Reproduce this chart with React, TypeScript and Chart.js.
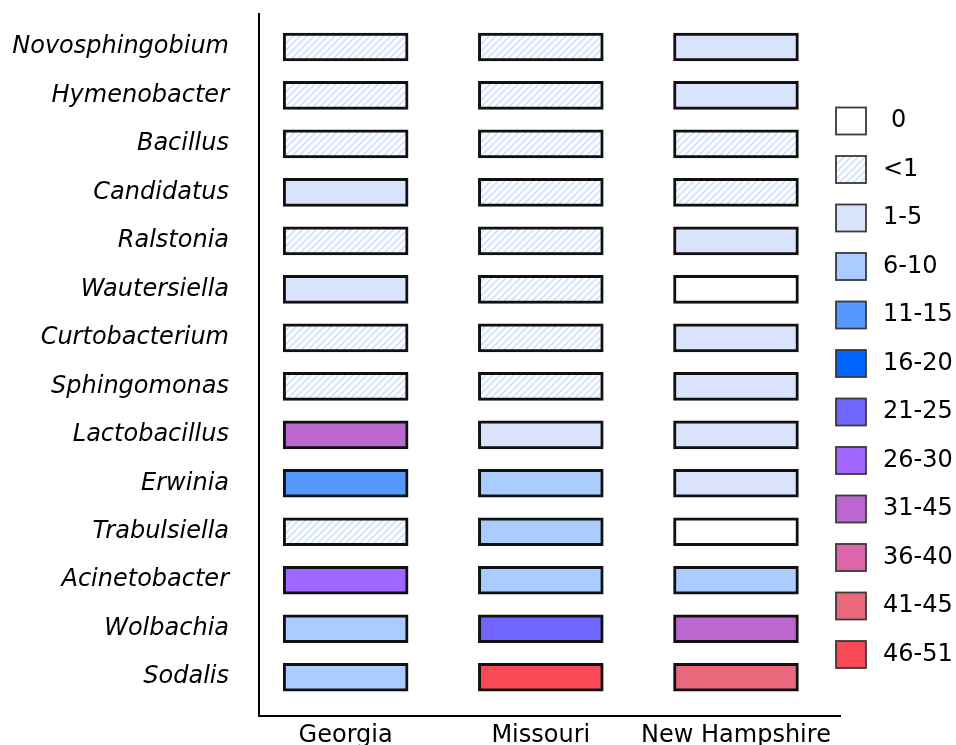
import React, { useEffect, useRef } from "react";
import { Chart, registerables } from "chart.js";

Chart.register(...registerables);

const genera = [
  "Novosphingobium",
  "Hymenobacter",
  "Bacillus",
  "Candidatus",
  "Ralstonia",
  "Wautersiella",
  "Curtobacterium",
  "Sphingomonas",
  "Lactobacillus",
  "Erwinia",
  "Trabulsiella",
  "Acinetobacter",
  "Wolbachia",
  "Sodalis",
];

const states = ["Georgia", "Missouri", "New Hampshire"];

const classLabels = ["0", "<1", "1-5", "6-10", "11-15", "16-20", "21-25", "26-30", "31-45", "36-40", "41-45", "46-51"];
const classColors = ["#ffffff", "HATCH", "#dae3fc", "#aaccff", "#5599ff", "#0066ff", "#7066ff", "#a066ff", "#bc66d0", "#dd66aa", "#e8687c", "#f74a56"];

const georgia = ["<1", "<1", "<1", "1-5", "<1", "1-5", "<1", "<1", "31-45", "11-15", "<1", "26-30", "6-10", "6-10"];
const missouri = ["<1", "<1", "<1", "<1", "<1", "<1", "<1", "<1", "1-5", "6-10", "6-10", "6-10", "21-25", "46-51"];
const newHampshire = ["1-5", "1-5", "<1", "<1", "1-5", "0", "1-5", "1-5", "1-5", "1-5", "0", "6-10", "31-45", "41-45"];

const seriesByState = [georgia, missouri, newHampshire];

function makeHatch(): CanvasPattern | string {
  const s = 7;
  const c = document.createElement("canvas");
  c.width = s;
  c.height = s;
  const g = c.getContext("2d");
  if (!g) return "#eef3fd";
  g.fillStyle = "#fafcff";
  g.fillRect(0, 0, s, s);
  g.strokeStyle = "#c9dbf7";
  g.lineWidth = 1.3;
  g.beginPath();
  g.moveTo(0, s);
  g.lineTo(s, 0);
  g.moveTo(-1, 1);
  g.lineTo(1, -1);
  g.moveTo(s - 1, s + 1);
  g.lineTo(s + 1, s - 1);
  g.stroke();
  const p = g.createPattern(c, "repeat");
  return p || "#eef3fd";
}

export default function App() {
  const ref = useRef<HTMLCanvasElement | null>(null);

  useEffect(() => {
    if (!ref.current) return;
    const hatch = makeHatch();
    const colorOf = (cls: string) => {
      const c = classColors[classLabels.indexOf(cls)];
      return c === "HATCH" ? hatch : c;
    };
    const half = 0.32;

    const datasets = seriesByState.map((series, col) => ({
      label: states[col],
      data: series.map((_, i) => ({ x: [col - half, col + half], y: i })),
      backgroundColor: series.map((cls) => colorOf(cls)),
      borderColor: "#111111",
      borderWidth: 3,
      borderSkipped: false,
      barThickness: 28,
      grouped: false,
    }));

    const legendPlugin = {
      id: "classLegend",
      afterDraw(chart: any) {
        const ctx = chart.ctx;
        ctx.save();
        classLabels.forEach((lab, i) => {
          const cy = 121 + 48.5 * i;
          const bx = 836;
          const bw = 30;
          const bh = 27;
          ctx.fillStyle = colorOf(lab);
          ctx.fillRect(bx, cy - bh / 2, bw, bh);
          ctx.strokeStyle = "#3a3a3a";
          ctx.lineWidth = 1.8;
          ctx.strokeRect(bx, cy - bh / 2, bw, bh);
          ctx.fillStyle = "#000000";
          ctx.font = "24px 'DejaVu Sans'";
          ctx.textBaseline = "middle";
          ctx.textAlign = "left";
          ctx.fillText(lab, lab === "0" ? 891 : 883, cy);
        });
        ctx.restore();
      },
    };

    const chart = new Chart(ref.current, {
      type: "bar",
      data: { datasets: datasets as any },
      plugins: [legendPlugin],
      options: {
        animation: false,
        responsive: true,
        maintainAspectRatio: false,
        indexAxis: "y",
        layout: { padding: { left: 0, top: 14, right: 116, bottom: 0 } },
        plugins: { legend: { display: false }, tooltip: { enabled: false } },
        scales: {
          x: {
            type: "linear",
            offset: false,
            min: -0.444,
            max: 2.533,
            grid: { display: false, drawTicks: false },
            border: { display: true, color: "#000000", width: 2 },
            afterBuildTicks: (scale: any) => {
              scale.ticks = states.map((_, i) => ({ value: i }));
            },
            afterFit: (scale: any) => {
              scale.height = 29;
              scale.paddingLeft = 0;
              scale.paddingRight = 0;
              scale.paddingTop = 0;
              scale.paddingBottom = 0;
            },
            ticks: {
              autoSkip: false,
              maxRotation: 0,
              padding: 5,
              color: "#000000",
              font: { family: "'DejaVu Sans'", size: 24 },
              callback: (v: any) => states[v] ?? "",
            },
          },
          y: {
            type: "linear",
            offset: false,
            reverse: true,
            min: -0.68,
            max: 13.8,
            grid: { display: false, drawTicks: false, offset: false },
            border: { display: true, color: "#000000", width: 2 },
            afterBuildTicks: (scale: any) => {
              scale.ticks = genera.map((_, i) => ({ value: i }));
            },
            afterFit: (scale: any) => {
              scale.width = 259;
              scale.paddingLeft = 0;
              scale.paddingRight = 0;
              scale.paddingTop = 0;
              scale.paddingBottom = 0;
            },
            ticks: {
              autoSkip: false,
              padding: 30,
              color: "#000000",
              font: { family: "'DejaVu Sans'", size: 24, style: "italic" },
              callback: (v: any) => genera[v] ?? "",
            },
          },
        },
      },
    } as any);

    return () => chart.destroy();
  }, []);

  return (
    <div style={{ position: "fixed", left: 0, top: 0, width: 956, height: 745, background: "#ffffff" }}>
      <canvas ref={ref} />
    </div>
  );
}
